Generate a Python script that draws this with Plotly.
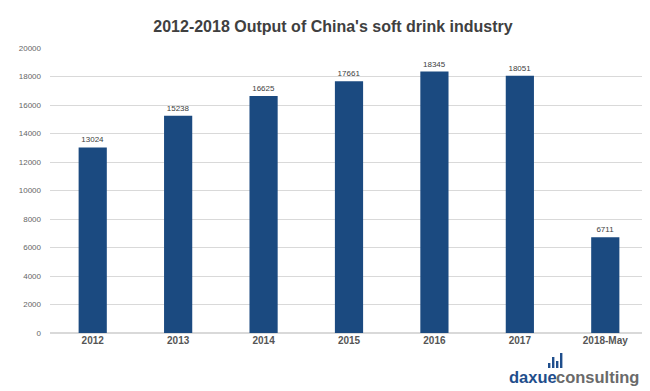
import plotly.graph_objects as go

categories = ["2012", "2013", "2014", "2015", "2016", "2017", "2018-May"]
values = [13024, 15238, 16625, 17661, 18345, 18051, 6711]
y_ticks = [0, 2000, 4000, 6000, 8000, 10000, 12000, 14000, 16000, 18000, 20000]
y_tick_labels = [str(v) for v in y_ticks]

W, H = 650, 391
L, R, T, B = 42, 10, 40, 66
PW, PH = W - L - R, H - T - B


def px(x):
    return (x - L) / PW


def py(y):
    return (H - B - y) / PH


fig = go.Figure(go.Bar(
    x=categories, y=values,
    marker=dict(color="#1b4a80", line=dict(width=0)),
    text=[str(v) for v in values], textposition="outside",
    textfont=dict(size=8, color="#404040", family="Liberation Sans"),
    cliponaxis=False,
))

fig.update_layout(
    width=W, height=H,
    margin=dict(l=L, r=R, t=T, b=B),
    paper_bgcolor="white", plot_bgcolor="white",
    bargap=0.67,
    showlegend=False,
    title=dict(text="<b>2012-2018 Output of China's soft drink industry</b>",
               x=0.5, xanchor="center", y=1 - 18 / H, yanchor="middle",
               font=dict(size=16, color="#404040", family="Liberation Sans")),
    xaxis=dict(type="category", showline=False, ticks="", showgrid=False,
               tickfont=dict(size=10, color="#555555", family="Liberation Sans"),
               tickprefix="<b>", ticksuffix="</b>"),
    yaxis=dict(range=[0, 20000], tickvals=y_ticks, ticktext=y_tick_labels,
               showgrid=True, gridcolor="#d9d9d9",
               gridwidth=1, zeroline=True, zerolinecolor="#d9d9d9", showline=False,
               ticks="", ticklabelstandoff=8,
               tickfont=dict(size=8, color="#666666", family="Liberation Sans")),
)

# logo text (two parts)
fig.add_annotation(xref="paper", yref="paper",
                   x=px(499), y=py(369),
                   xanchor="left", yanchor="middle", showarrow=False,
                   text="<b>daxue</b>", font=dict(size=16.5, family="Liberation Sans", color="#1f4e8c"))
fig.add_annotation(xref="paper", yref="paper",
                   x=px(546), y=py(369),
                   xanchor="left", yanchor="middle", showarrow=False,
                   text="<b>consulting</b>", font=dict(size=16.5, family="Liberation Sans", color="#6a6a6a"))
# logo icon bars (decoration)
for x0, h in [(540, 5), (544, 11), (548, 7), (552, 15)]:
    fig.add_shape(type="rect", xref="paper", yref="paper",
                  x0=px(x0), x1=px(x0 + 2.4),
                  y0=py(360), y1=py(360 - h),
                  fillcolor="#1f4e8c", line=dict(width=0))

fig.write_html("out.html")
